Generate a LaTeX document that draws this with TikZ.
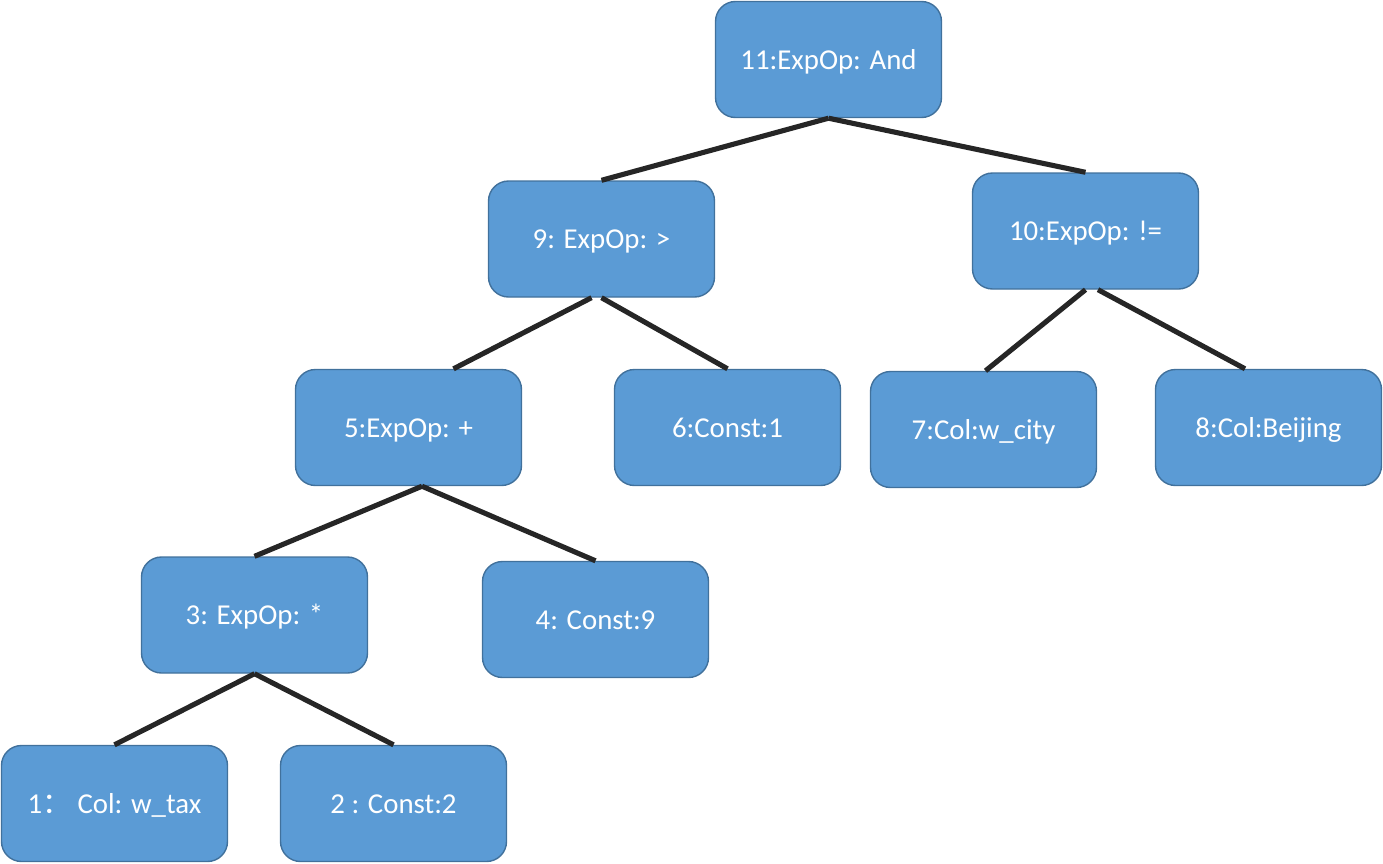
\documentclass[tikz,border=0pt]{standalone}
\usepackage{fontspec}
\setmainfont{Carlito}
\newfontfamily\cjk{Noto Sans CJK SC}
\usepackage{xcolor}
\usepackage{tikz}
\usetikzlibrary{positioning}

\definecolor{boxfill}{HTML}{5B9BD5}
\definecolor{boxline}{HTML}{41719C}
\definecolor{edgecol}{HTML}{262626}

\begin{document}
\begin{tikzpicture}[
        block/.style={rectangle, draw=boxline, line width=0.8pt, fill=boxfill, text=white, rounded corners=0.4cm,
            minimum width=4.52cm, minimum height=2.32cm, text height=0.5cm, text depth=0.12cm,
            font=\fontsize{16.4}{19}\selectfont},
        line/.style={draw=edgecol, line width=2.9pt}]

        \useasboundingbox (0,0) rectangle (27.66,-17.26);

        % Nodes
        \node [block] (n11) at (16.57,-1.19) {11:ExpOp: And};
        \node [block] (n9) at (12.03,-4.78) {9: ExpOp: >};
        \node [block] (n10) at (21.71,-4.62) {10:ExpOp: !=};
        \node [block] (n5) at (8.17,-8.55) {5:ExpOp: +};
        \node [block] (n6) at (14.55,-8.55) {6:Const:1};
        \node [block] (n7) at (19.67,-8.59) {7:Col:w\_city};
        \node [block] (n8) at (25.37,-8.55) {8:Col:Beijing};
        \node [block] (n3) at (5.09,-12.30) {3: ExpOp: *};
        \node [block] (n4) at (11.91,-12.39) {4: Const:9};
        \node [block] (n1) at (2.29,-16.07) {1{\cjk ：}\ Col: w\_tax};
        \node [block] (n2) at (7.87,-16.07) {2 : Const:2};

        % Edges
        \path [line] (n11.south) -- (n9.north);
        \path [line] (n11.south) -- (n10.north);
        \path [line] ([xshift=-0.2cm]n9.south) -- ([xshift=0.9cm]n5.north);
        \path [line] (n9.south) -- (n6.north);
        \path [line] (n10.south) -- ([xshift=0.04cm]n7.north);
        \path [line] ([xshift=0.25cm]n10.south) -- ([xshift=-0.47cm]n8.north);
        \path [line] ([xshift=0.27cm]n5.south) -- (n3.north);
        \path [line] ([xshift=0.27cm]n5.south) -- (n4.north);
        \path [line] (n3.south) -- (n1.north);
        \path [line] (n3.south) -- (n2.north);

    \end{tikzpicture}
\end{document}
